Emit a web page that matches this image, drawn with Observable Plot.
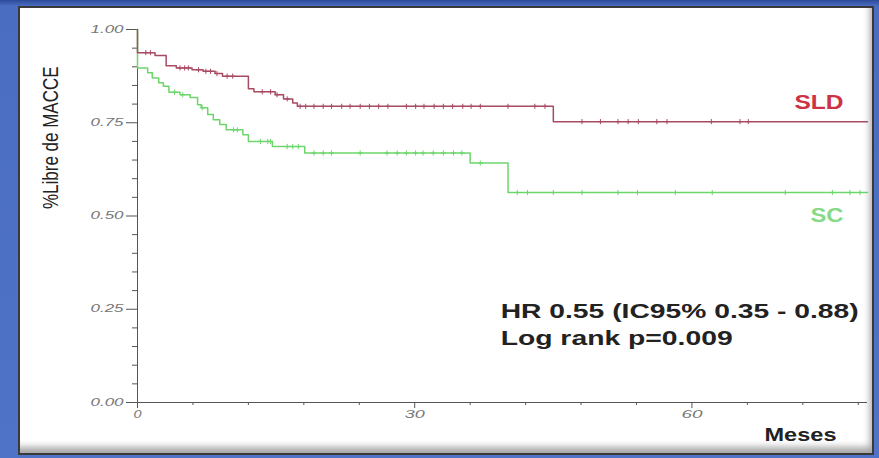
<!DOCTYPE html>
<html><head><meta charset="utf-8">
<script src="https://cdn.jsdelivr.net/npm/d3@7"></script>
<script src="https://cdn.jsdelivr.net/npm/@observablehq/plot@0.6"></script>
<style>
html,body{margin:0;padding:0;}
body{background:#4d70c4;width:879px;height:458px;overflow:hidden;}
#wrap{position:relative;width:879px;height:458px;background:linear-gradient(#2c4a98 0px,#4a6dc2 6px,#4f73c6 100%);}
#panel{position:absolute;left:18px;top:6px;width:852px;height:445px;background:#fff;border:2px solid #3a3a3a;box-shadow: inset -5px -9px 7px -3px rgba(0,0,0,0.35);}
#chart{position:absolute;left:0;top:0;}
</style></head>
<body><div id="wrap"><div id="panel"></div><div id="chart"></div></div>
<script>
// Kaplan–Meier data (months, survival free of MACCE)
const sldTimes = [0, 0, 1.9, 3.1, 4.2, 5.9, 7.1, 8.4, 9.2, 12.0, 12.6, 14.9, 15.8, 16.8, 17.3, 45.0];
const sldSurv  = [1, 0.938, 0.930, 0.903, 0.897, 0.892, 0.888, 0.882, 0.875, 0.841, 0.833, 0.825, 0.814, 0.803, 0.794, 0.753];
const scTimes  = [0, 0, 1.1, 1.6, 2.3, 2.8, 3.4, 4.6, 5.7, 6.5, 6.9, 7.6, 8.2, 8.9, 9.6, 11.4, 12.0, 14.6, 18.1, 36.0, 40.1];
const scSurv   = [1, 0.897, 0.884, 0.870, 0.857, 0.848, 0.832, 0.825, 0.818, 0.798, 0.790, 0.772, 0.758, 0.745, 0.731, 0.718, 0.700, 0.686, 0.669, 0.642, 0.563];
const followUpEnd = 79;
const sldCensor = [0.9, 1.4, 4.6, 5.1, 5.5, 6.6, 7.4, 7.9, 8.6, 9.7, 10.3, 13.5, 14.4, 15.1, 16.2, 17.6, 18.2, 19.1, 20.1, 21.0, 22.1, 23.0, 24.1, 25.1, 26.1, 27.1, 29.1, 30.1, 31.0, 32.1, 33.1, 34.1, 35.2, 36.1, 37.1, 40.1, 43.0, 44.1, 48.1, 50.1, 52.0, 53.1, 54.2, 56.2, 57.3, 62.1, 65.2, 66.1];
const scCensor  = [4.0, 4.9, 7.0, 10.4, 10.8, 13.3, 14.1, 14.4, 16.2, 16.8, 17.4, 19.1, 20.1, 21.0, 24.1, 27.0, 28.1, 29.1, 30.1, 30.9, 32.0, 33.1, 34.2, 35.1, 37.1, 41.1, 42.2, 45.0, 48.1, 52.0, 54.1, 58.2, 62.2, 70.1, 75.2, 77.1, 78.2];
const yMajorTicks = [0, 0.25, 0.5, 0.75, 1];
const yMinorTicks = [0.05,0.1,0.15,0.2,0.3,0.35,0.4,0.45,0.55,0.6,0.65,0.7,0.8,0.85,0.9,0.95];
const xMajorTicks = [0, 30, 60];
const xMinorTicks = [6,12,18,24,36,42,48,54,66,72,78];
const seriesNames = ["SLD", "SC"];
const statLines = ["HR 0.55 (IC95% 0.35 - 0.88)", "Log rank p=0.009"];
const axisTitles = {x: "Meses", y: "%Libre de MACCE"};

const red = "#a84a62", green = "#6cd66c";

function rows(times, surv) {
  const r = times.map((t, i) => ({time: t, surv: surv[i]}));
  r.push({time: followUpEnd, surv: surv[surv.length - 1]});
  return r;
}
function censorRows(censor, times, surv) {
  return censor.map(t => {
    let i = 0;
    for (let k = 0; k < times.length; k++) if (times[k] <= t) i = k;
    return {time: t, surv: surv[i]};
  });
}

const sld = rows(sldTimes, sldSurv), sc = rows(scTimes, scSurv);
const sldC = censorRows(sldCensor, sldTimes, sldSurv), scC = censorRows(scCensor, scTimes, scSurv);

const chart = Plot.plot({
  width: 879, height: 458,
  marginLeft: 137, marginRight: 12, marginTop: 29, marginBottom: 56,
  style: {background: "transparent", fontFamily: "'Liberation Sans', Arial, sans-serif"},
  x: {domain: [0, followUpEnd]},
  y: {domain: [0, 1]},
  marks: [
    Plot.axisY({ticks: yMinorTicks, tickSize: 5, tickFormat: () => "", label: null, stroke: "#555"}),
    Plot.axisY({ticks: yMajorTicks, tickSize: 11, tickPadding: 3, tickFormat: d3.format(".2f"), label: null,
      stroke: "#555", fill: "#777", fontSize: 10, fontStyle: "italic"}),
    Plot.axisX({ticks: xMinorTicks, tickSize: 3, tickFormat: () => "", label: null, stroke: "#555"}),
    Plot.axisX({ticks: xMajorTicks, tickSize: 6, tickPadding: 2, tickFormat: d => String(d), label: null,
      stroke: "#555", fill: "#777", fontSize: 10, fontStyle: "italic"}),
    Plot.ruleX([0], {stroke: "#555"}),
    Plot.ruleY([0], {stroke: "#555"}),
    Plot.line(sc, {x: "time", y: "surv", curve: "step-after", stroke: green, strokeWidth: 1.5}),
    Plot.line(sld, {x: "time", y: "surv", curve: "step-after", stroke: red, strokeWidth: 1.5}),
    Plot.dot(scC, {x: "time", y: "surv", symbol: "plus", r: 1.8, stroke: green, strokeWidth: 1}),
    Plot.dot(sldC, {x: "time", y: "surv", symbol: "plus", r: 1.8, stroke: red, strokeWidth: 1}),
    Plot.text([seriesNames[0]], {x: 76.4, y: 0.804, textAnchor: "end", fontWeight: "bold", fontSize: 20, fill: "#cc3344"}),
    Plot.text([seriesNames[1]], {x: 76.4, y: 0.501, textAnchor: "end", fontWeight: "bold", fontSize: 20, fill: "#86da86"}),
    Plot.text([statLines[0]], {x: 39.3, y: 0.244, textAnchor: "start", fontWeight: "bold", fontSize: 21, fill: "#222"}),
    Plot.text([statLines[1]], {x: 39.3, y: 0.172, textAnchor: "start", fontWeight: "bold", fontSize: 21, fill: "#222"}),
    Plot.text([axisTitles.x], {frameAnchor: "bottom-right", dx: -31, dy: 38, textAnchor: "end", fontWeight: "bold", fontSize: 18, fill: "#222"}),
    Plot.text([axisTitles.y], {frameAnchor: "left", dx: -87, dy: -7, rotate: -90, fontSize: 17, fill: "#222"})
  ]
});
document.getElementById("chart").appendChild(chart);

// The reference image is horizontally stretched: stretch the text to match
const widths = {"HR 0.55 (IC95% 0.35 - 0.88)": 358, "Log rank p=0.009": 232, "SLD": 49, "SC": 33, "Meses": 72,
  "1.00": 33, "0.75": 33, "0.50": 33, "0.25": 33, "0.00": 33, "0": 8, "30": 20, "60": 21};
chart.querySelectorAll("text").forEach(el => {
  const t = el.textContent;
  if (widths[t]) {
    el.setAttribute("textLength", widths[t]);
    el.setAttribute("lengthAdjust", "spacingAndGlyphs");
  }
  if (t === axisTitles.y) {
    const tr = el.getAttribute("transform") || "";
    el.setAttribute("transform", tr.replace("rotate(-90)", "scale(1.3,1) rotate(-90)"));
  }
});
</script>
</body></html>
